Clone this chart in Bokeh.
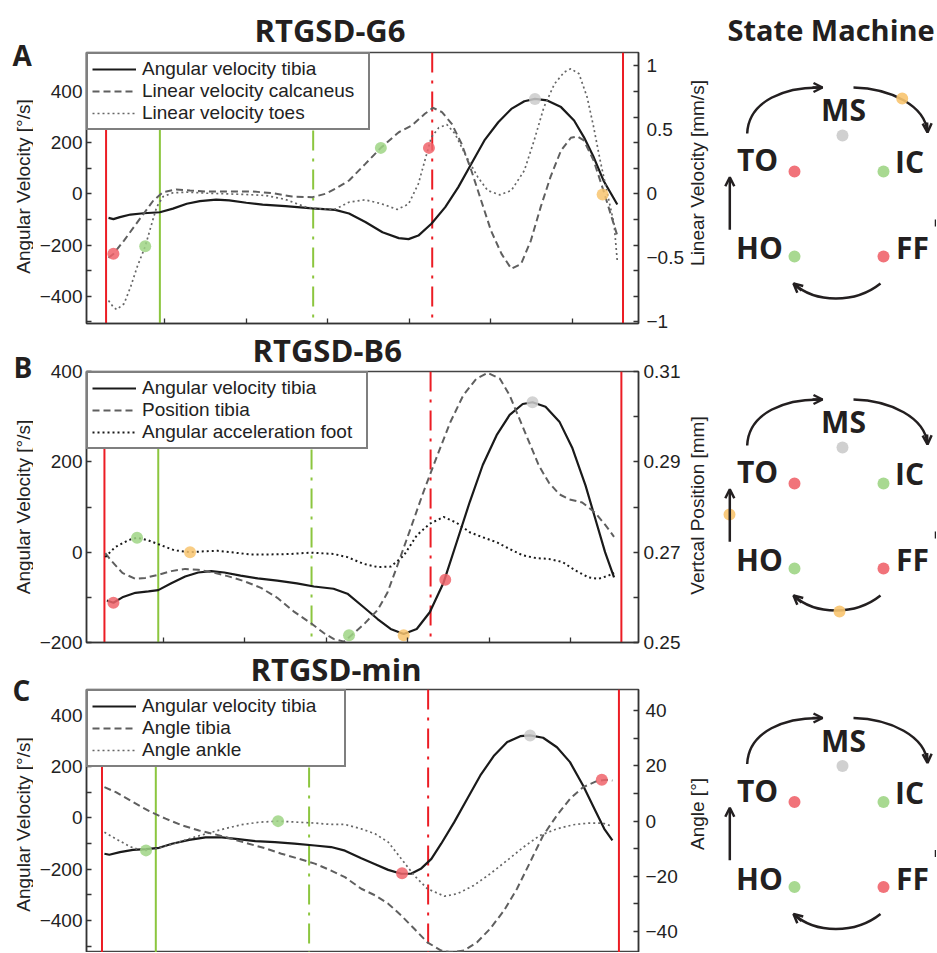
import math
from bokeh.plotting import figure
from bokeh.models import (Range1d, LinearAxis, FixedTicker, Span, Legend, LegendItem,
                          Title, Arrow, OpenHead)
from bokeh.layouts import row, column
from bokeh.core.properties import value
from bokeh.embed import file_html
from bokeh.resources import INLINE

# ---------------- data (x in time units, one bottom tick per unit) ----------------
# Panel A: RTGSD-G6
A_tibia_t = [0.31,0.37,0.45,0.58,0.74,0.94,1.10,1.27,1.43,1.63,1.79,2.00,2.20,2.48,2.81,3.09,3.26,3.46,3.67,3.87,
             3.99,4.11,4.27,4.44,4.60,4.76,4.92,5.09,5.25,5.41,5.54,5.69,5.86,6.02,6.14,6.26,6.38,6.55]
A_tibia = [-94,-99,-91,-81,-76,-72,-58,-39,-29,-23,-26,-35,-42,-48,-57,-63,-77,-110,-150,-173,
           -177,-163,-117,-52,26,117,208,279,331,361,370,364,338,286,221,143,52,-42]
A_calc_t = [0.31,0.37,0.50,0.62,0.74,0.86,0.98,1.14,1.31,1.51,1.75,2.08,2.32,2.56,2.81,2.97,3.09,3.26,3.46,3.65,
            3.87,4.03,4.19,4.29,4.40,4.52,4.64,4.76,4.88,5.00,5.13,5.25,5.37,5.49,5.61,5.73,5.86,5.98,6.06,6.14,
            6.26,6.38,6.48,6.55]
A_calc = [-0.50,-0.47,-0.365,-0.26,-0.156,-0.052,0.013,0.034,0.026,0.018,0.018,0.018,0.005,-0.021,-0.026,0.0,0.039,0.104,0.234,0.359,
          0.481,0.534,0.625,0.672,0.638,0.547,0.391,0.182,-0.052,-0.286,-0.469,-0.586,-0.547,-0.365,-0.104,0.130,0.339,0.438,0.448,0.417,
          0.260,0.026,-0.182,-0.326]
A_toes_t = [0.31,0.37,0.41,0.50,0.58,0.66,0.76,0.84,0.90,0.98,1.10,1.27,1.51,1.75,1.99,2.24,2.48,2.73,2.89,3.09,
            3.26,3.46,3.66,3.85,3.99,4.11,4.19,4.27,4.36,4.46,4.56,4.68,4.84,4.96,5.11,5.25,5.41,5.53,5.65,5.78,
            5.90,5.98,6.08,6.18,6.26,6.34,6.42,6.51,6.55]
A_toes = [-0.834,-0.886,-0.904,-0.859,-0.729,-0.573,-0.411,-0.234,-0.104,-0.021,0.008,0.013,0.005,0.0,-0.005,-0.013,-0.044,-0.104,-0.117,-0.120,
          -0.065,-0.047,-0.078,-0.122,-0.080,0.078,0.260,0.443,0.516,0.541,0.469,0.313,0.130,0.026,-0.008,0.026,0.182,0.417,0.677,0.859,
          0.951,0.977,0.938,0.755,0.521,0.260,0.026,-0.234,-0.526]
A_mark_t = [0.37, 0.76, 3.65, 4.24, 5.54, 6.37]
A_mark_v = [-234, -205, 179, 179, 370, -3]
A_mark_c = ["red", "green", "green", "red", "gray", "orange"]

# Panel B: RTGSD-B6
B_tibia_t = [0.31,0.39,0.50,0.66,0.82,0.94,1.10,1.27,1.43,1.59,1.75,1.95,2.16,2.40,2.64,2.85,3.09,3.26,3.46,3.63,
             3.79,3.95,4.11,4.27,4.44,4.60,4.76,4.92,5.09,5.25,5.41,5.53,5.69,5.86,6.02,6.18,6.30,6.42,6.53]
B_tibia = [-107,-112,-100,-90,-87,-84,-69,-54,-45,-42,-45,-52,-58,-63,-69,-76,-81,-92,-122,-148,
           -170,-181,-170,-133,-67,22,111,193,259,304,328,332,322,289,230,148,74,0,-56]
B_pos_t = [0.29,0.37,0.50,0.66,0.78,0.94,1.10,1.27,1.43,1.59,1.79,1.99,2.20,2.40,2.60,2.81,2.97,3.09,3.22,3.46,
           3.63,3.75,3.87,4.03,4.19,4.36,4.52,4.68,4.84,4.98,5.13,5.25,5.37,5.49,5.61,5.73,5.86,5.98,6.14,6.30,
           6.42,6.53]
B_pos = [0.2698,0.2680,0.2654,0.2641,0.2643,0.2650,0.2658,0.2663,0.2661,0.2656,0.2647,0.2636,0.2621,0.2599,0.2569,0.2543,0.2521,0.2508,0.2502,0.2540,
         0.2572,0.2610,0.2669,0.2750,0.2832,0.2913,0.2987,0.3047,0.3084,0.3097,0.3084,0.3047,0.2995,0.2943,0.2891,0.2854,0.2828,0.2817,0.2810,0.2787,
         0.2761,0.2734]
B_acc_t = [0.29,0.41,0.58,0.68,0.82,0.98,1.14,1.33,1.51,1.67,1.87,2.08,2.32,2.56,2.81,3.09,3.26,3.46,3.63,3.79,
           3.95,4.11,4.27,4.44,4.60,4.76,4.92,5.09,5.25,5.41,5.57,5.73,5.90,6.06,6.22,6.34,6.46,6.53]
B_acc = [-11,11,27,32,26,15,4,0,2,3,-1,-5,-5,-4,-1,-4,-11,-26,-33,-32,
         -8,37,63,78,65,44,33,22,7,-7,-13,-15,-22,-41,-56,-59,-52,-46]
B_mark_t = [0.39, 0.68, 1.33, 3.28, 3.95, 4.46, 5.53]
B_mark_v = [-112, 32, 0, -184, -184, -61, 332]
B_mark_c = ["red", "green", "orange", "green", "orange", "red", "gray"]

# Panel C: RTGSD-min
C_tibia_t = [0.31,0.37,0.50,0.66,0.82,0.98,1.14,1.35,1.55,1.75,1.95,2.16,2.40,2.64,2.89,3.09,3.26,3.46,3.63,3.79,
             3.95,4.07,4.19,4.32,4.44,4.60,4.76,4.92,5.09,5.25,5.41,5.53,5.69,5.86,6.02,6.18,6.34,6.44,6.54]
C_tibia = [-140,-144,-134,-125,-122,-117,-101,-86,-76,-76,-83,-91,-95,-101,-108,-114,-128,-158,-181,-203,
           -218,-218,-199,-160,-101,-17,74,165,243,295,318,321,312,275,217,126,22,-43,-88]
C_angt_t = [0.31,0.45,0.66,0.86,1.06,1.27,1.47,1.67,1.87,2.08,2.28,2.48,2.69,2.89,3.09,3.26,3.46,3.63,3.79,3.95,
            4.11,4.27,4.44,4.56,4.72,4.88,5.04,5.21,5.37,5.53,5.69,5.86,6.02,6.18,6.34,6.46,6.54]
C_angt = [12.3,10.5,6.9,3.6,0.9,-1.6,-3.4,-4.8,-6.4,-8.2,-9.8,-11.8,-13.6,-15.4,-17.9,-20.3,-24.5,-26.9,-29.9,-34.2,
          -39.0,-43.9,-46.9,-47.5,-46.9,-43.9,-39.0,-32.4,-24.5,-14.9,-5.2,2.1,8.1,12.3,14.4,15.0,14.7]
C_anka_t = [0.31,0.45,0.62,0.74,0.82,0.98,1.18,1.39,1.59,1.79,1.99,2.20,2.44,2.69,2.89,3.09,3.26,3.46,3.63,3.79,
            3.95,4.11,4.27,4.48,4.64,4.84,5.04,5.25,5.45,5.65,5.86,6.06,6.26,6.42,6.54]
C_anka = [-4.0,-6.4,-9.2,-10.4,-10.6,-9.7,-8.0,-6.0,-4.3,-2.7,-1.3,-0.4,0.0,-0.4,-0.7,-1.2,-1.2,-2.8,-4.6,-7.6,
          -13.6,-19.7,-24.5,-27.2,-26.3,-23.3,-19.1,-14.2,-9.4,-5.2,-2.8,-1.3,-0.7,-0.7,-1.9]
C_mark_t = [0.82, 2.44, 3.96, 5.53, 6.41]
C_mark_v = [-127, -13, -216, 321, 148]
C_mark_c = ["green", "green", "red", "gray", "red"]

# gait events (same in all panels)
ev_red_solid = [0.28, 6.62]
ev_green_solid = [0.94]
ev_green_dashdot = [2.82]
ev_red_dashdot = [4.28]

panel_letters = ["A", "B", "C"]
panel_titles = ["RTGSD-G6", "RTGSD-B6", "RTGSD-min"]
left_axis_title = "Angular Velocity [°/s]"
right_axis_titles = ["Linear Velocity [mm/s]", "Vertcal Position [mm]", "Angle [°]"]

# ---------------- styles / page geometry ----------------
FONT = "Liberation Sans"
BOLD = "Open Sans"
RED = "#ec1c24"
GREEN = "#8cc63f"
INK = "#231f20"
DOT = {"red": "#f0646b", "green": "#9fd585", "gray": "#cbcbcb", "orange": "#f8c46f"}
H = 952          # page height used
LW = 33          # width of the left strip (panel letters, left axis titles)
LOV = 3          # charts overlap the left strip by this many px
PW = 657         # width of each chart
SW = 249         # width of the right strip (right axis titles, state machines)
BL = -11         # baseline correction for bold texts (px, upward)


def style_axis(ax, major_in=5):
    ax.major_tick_in = major_in
    ax.major_tick_out = 0
    ax.minor_tick_in = 5
    ax.minor_tick_out = 0
    ax.axis_line_color = "#333333"
    ax.axis_line_width = 1.5
    ax.major_tick_line_color = "#333333"
    ax.minor_tick_line_color = "#333333"
    ax.major_tick_line_width = 1.3
    ax.minor_tick_line_width = 1.3
    ax.major_label_text_font = FONT
    ax.major_label_text_font_size = "19px"
    ax.major_label_text_color = "#222222"


def panel(cfg):
    p = figure(width=PW, height=cfg["height"], x_range=Range1d(*cfg["xr"]),
               y_range=Range1d(*cfg["yl"]), output_backend="svg", toolbar_location=None,
               title=None, min_border_left=cfg["bl"], min_border_right=cfg["br"],
               min_border_top=cfg["bt"], min_border_bottom=cfg["bb"],
               x_axis_location="below" if cfg["xaxis"] else None)
    p.extra_y_ranges = {"right": Range1d(*cfg["yr"])}
    p.grid.visible = False
    p.outline_line_color = "#444444"
    p.outline_line_width = 1.5
    p.background_fill_color = "white"
    p.border_fill_alpha = 0
    if cfg["lift"]:
        # let the chart's (transparent) top border overlap the chart above it
        p.styles = {"margin-top": "-%dpx" % cfg["lift"]}

    la = p.yaxis[0]
    la.ticker = FixedTicker(ticks=cfg["lt"], minor_ticks=cfg["lm"])
    la.major_label_standoff = 4
    style_axis(la)

    ra = LinearAxis(y_range_name="right",
                    ticker=FixedTicker(ticks=cfg["rt"], minor_ticks=cfg["rm"]))
    style_axis(ra, major_in=cfg["r_major_in"])
    ra.major_label_standoff = cfg["rso"]
    p.add_layout(ra, "right")

    if cfg["xaxis"]:
        xa = p.xaxis[0]
        xa.ticker = FixedTicker(ticks=[1, 2, 3, 4, 5, 6])
        style_axis(xa)
        xa.major_label_overrides = {k: "" for k in [1, 2, 3, 4, 5, 6]}
        xa.major_label_text_font_size = "1px"
        xa.major_label_standoff = 0

    for t in ev_red_solid:
        p.add_layout(Span(location=t, dimension="height", line_color=RED, line_width=2, level="underlay"))
    for t in ev_green_solid:
        p.add_layout(Span(location=t, dimension="height", line_color=GREEN, line_width=2, level="underlay"))
    for t in ev_green_dashdot:
        p.add_layout(Span(location=t, dimension="height", line_color=GREEN, line_width=2,
                          line_dash="20 8 3 8", level="underlay"))
    for t in ev_red_dashdot:
        p.add_layout(Span(location=t, dimension="height", line_color=RED, line_width=2,
                          line_dash="20 8 3 8", level="underlay"))

    r1 = p.line(cfg["s1"][0], cfg["s1"][1], line_color="#1a1a1a", line_width=2.2)
    r2 = p.line(cfg["s2"][0], cfg["s2"][1], line_color="#5f5f5f", line_width=2, line_dash="7 4",
                y_range_name=cfg["s2_axis"])
    r3 = p.line(cfg["s3"][0], cfg["s3"][1], line_color=cfg["s3_color"], line_width=cfg["s3_width"],
                line_dash="2 3", y_range_name=cfg["s3_axis"])

    p.scatter(cfg["mt"], cfg["mv"], size=12, fill_color=[DOT[c] for c in cfg["mc"]],
              line_color=None, fill_alpha=0.85)

    legend = Legend(items=[LegendItem(label=lab, renderers=[r]) for lab, r in zip(cfg["labels"], (r1, r2, r3))],
                    location="top_left", margin=0, padding=4, spacing=0, label_height=22,
                    glyph_height=22, glyph_width=44, label_standoff=6, label_width=cfg["lw"],
                    border_line_color="black", border_line_width=2, background_fill_alpha=1,
                    label_text_font=FONT, label_text_font_size="19px", label_text_color="#222222")
    p.add_layout(legend)

    p.add_layout(Title(text=cfg["title"], align="left", offset=cfg["toff"], standoff=cfg["tso"],
                       text_font=BOLD, text_font_style="bold", text_font_size="31px",
                       text_color=INK), "above")
    return p


# frames (page px): A 52-323, B 371-642, C 689-952
pA = panel(dict(height=340, lift=0, xr=(0.04, 6.81), yl=(-506, 551), yr=(-1.013, 1.104),
                bl=52, br=45, bt=52, bb=17, xaxis=True,
                lt=[-400, -200, 0, 200, 400], lm=[-500, -300, -100, 100, 300, 500],
                rt=[-1, -0.5, 0, 0.5, 1], rm=[-1, -0.8, -0.6, -0.4, -0.2, 0, 0.2, 0.4, 0.6, 0.8, 1],
                r_major_in=0, rso=8,
                s1=(A_tibia_t, A_tibia), s2=(A_calc_t, A_calc), s2_axis="right",
                s3=(A_toes_t, A_toes), s3_axis="right", s3_color="#666666", s3_width=1.7,
                mt=A_mark_t, mv=A_mark_v, mc=A_mark_c,
                labels=["Angular velocity tibia", "Linear velocity calcaneus", "Linear velocity toes"], lw=222,
                title=panel_titles[0], toff=168, tso=4))

pB = panel(dict(height=338, lift=20, xr=(0.06, 6.83), yl=(-200, 400), yr=(0.25, 0.31),
                bl=54, br=44, bt=51, bb=16, xaxis=True,
                lt=[-200, 0, 200, 400], lm=[-100, 100, 300],
                rt=[0.25, 0.27, 0.29, 0.31], rm=[0.26, 0.28, 0.30], r_major_in=5, rso=5,
                s1=(B_tibia_t, B_tibia), s2=(B_pos_t, B_pos), s2_axis="right",
                s3=(B_acc_t, B_acc), s3_axis="default", s3_color="#1a1a1a", s3_width=2,
                mt=B_mark_t, mv=B_mark_v, mc=B_mark_c,
                labels=["Angular velocity tibia", "Position tibia", "Angular acceleration foot"], lw=220,
                title=panel_titles[1], toff=166, tso=1))

pC = panel(dict(height=312, lift=18, xr=(0.09, 6.86), yl=(-525, 500), yr=(-47.6, 47.7),
                bl=56, br=41, bt=49, bb=0, xaxis=False,
                lt=[-400, -200, 0, 200, 400], lm=[-500, -300, -100, 100, 300],
                rt=[-40, -20, 0, 20, 40], rm=[-30, -10, 10, 30], r_major_in=5, rso=7,
                s1=(C_tibia_t, C_tibia), s2=(C_angt_t, C_angt), s2_axis="right",
                s3=(C_anka_t, C_anka), s3_axis="right", s3_color="#666666", s3_width=1.7,
                mt=C_mark_t, mv=C_mark_v, mc=C_mark_c,
                labels=["Angular velocity tibia", "Angle tibia", "Angle ankle"], lw=198,
                title=panel_titles[2], toff=164, tso=-1))

# ---------------- left strip: panel letters + left axis titles ----------------
lf = figure(width=LW, height=H, x_range=Range1d(0, LW), y_range=Range1d(0, H),
            output_backend="svg", toolbar_location=None, title=None, min_border=0,
            x_axis_location=None, y_axis_location=None)
lf.grid.visible = False
lf.outline_line_color = None
lf.styles = {"margin-right": "-%dpx" % LOV}
letter_pos = [(12, 65), (13, 377), (12, 700)]            # px from page top-left (baseline)
left_title_pos = [(23, 186), (23, 506.5), (23, 824)]     # centre of rotated axis title
lf.text(x=[p[0] for p in letter_pos], y=[H - p[1] - BL for p in letter_pos], text=panel_letters,
        text_font=value(BOLD), text_font_style="bold", text_font_size="28px", text_color=INK,
        text_align="left", text_baseline="alphabetic")
lf.text(x=[p[0] for p in left_title_pos], y=[H - p[1] for p in left_title_pos],
        text=[left_axis_title] * 3, angle=math.pi / 2, text_font=value(FONT), text_font_size="19px",
        text_color="#222222", text_align="center", text_baseline="middle")

# ---------------- right strip: right axis titles + state machines ----------------
X0 = LW - LOV + PW
sm = figure(width=SW, height=H, x_range=Range1d(X0, X0 + SW), y_range=Range1d(0, H),
            output_backend="svg", toolbar_location=None, title=None, min_border=0,
            x_axis_location=None, y_axis_location=None)
sm.grid.visible = False
sm.outline_line_color = None

right_title_pos = [(697, 172.5), (697, 505), (697, 813.5)]
sm.text(x=[p[0] for p in right_title_pos], y=[H - p[1] for p in right_title_pos],
        text=right_axis_titles, angle=math.pi / 2, text_font=value(FONT), text_font_size="19px",
        text_color="#222222", text_align="center", text_baseline="middle")

sm_states = ["MS", "TO", "IC", "HO", "FF"]
sm_label_x = [843, 757, 909, 759, 912]
sm_label_y = [120, 170, 172, 258, 258]
sm_dot_x = [842, 794, 883, 794, 883]
sm_dot_y = [135, 171, 171, 256, 256]
sm_dot_c = ["gray", "red", "green", "green", "red"]
sm_offsets = [0, 312, 630.5]
sm_extra = [[(901.7, 98)], [(729, 202), (839, 299)], []]  # orange event dots

sm.text(x=[727], y=[H - 40 - BL], text=["State Machine"], text_font=value(BOLD), text_font_style="bold",
        text_font_size="29px", text_color=INK, text_align="left", text_baseline="alphabetic")

for off, extra in zip(sm_offsets, sm_extra):
    Y = lambda v: H - (v + off)
    sm.text(x=sm_label_x, y=[Y(v) - BL for v in sm_label_y], text=sm_states, text_font=value(BOLD),
            text_font_style="bold", text_font_size="30px", text_color=INK, text_align="center",
            text_baseline="alphabetic")
    sm.bezier(x0=[746.7, 853, 880], y0=[Y(133), Y(87), Y(283)],
              x1=[822, 927, 793], y1=[Y(87), Y(132), Y(283)],
              cx0=[748, 890, 855], cy0=[Y(100), Y(88), Y(303)],
              cx1=[785, 925, 815], cy1=[Y(86), Y(105), Y(303)],
              line_color=INK, line_width=2.5)
    # start of the IC -> FF arrow, cut by the right edge
    sm.segment(x0=[935.5], y0=[Y(219)], x1=[935.5], y1=[Y(226)], line_color=INK, line_width=2.5)
    for xs, ys, xe, ye in [(812, 87, 822, 87), (926.6, 122, 927, 132), (729.3, 229.3, 729.3, 176.7),
                           (801, 290, 793, 283)]:
        sm.add_layout(Arrow(end=OpenHead(size=9, line_width=2.5, line_color=INK),
                            x_start=xs, y_start=Y(ys), x_end=xe, y_end=Y(ye),
                            line_color=INK, line_width=2.5))
    sm.scatter(sm_dot_x, [Y(v) for v in sm_dot_y], size=12,
               fill_color=[DOT[c] for c in sm_dot_c], line_color=None, fill_alpha=0.9)
    if extra:
        sm.scatter([e[0] for e in extra], [Y(e[1]) for e in extra], size=12,
                   fill_color=DOT["orange"], line_color=None, fill_alpha=0.9)

layout = row(lf, column(pA, pB, pC), sm)
open("out.html", "w").write(file_html(layout, INLINE))
